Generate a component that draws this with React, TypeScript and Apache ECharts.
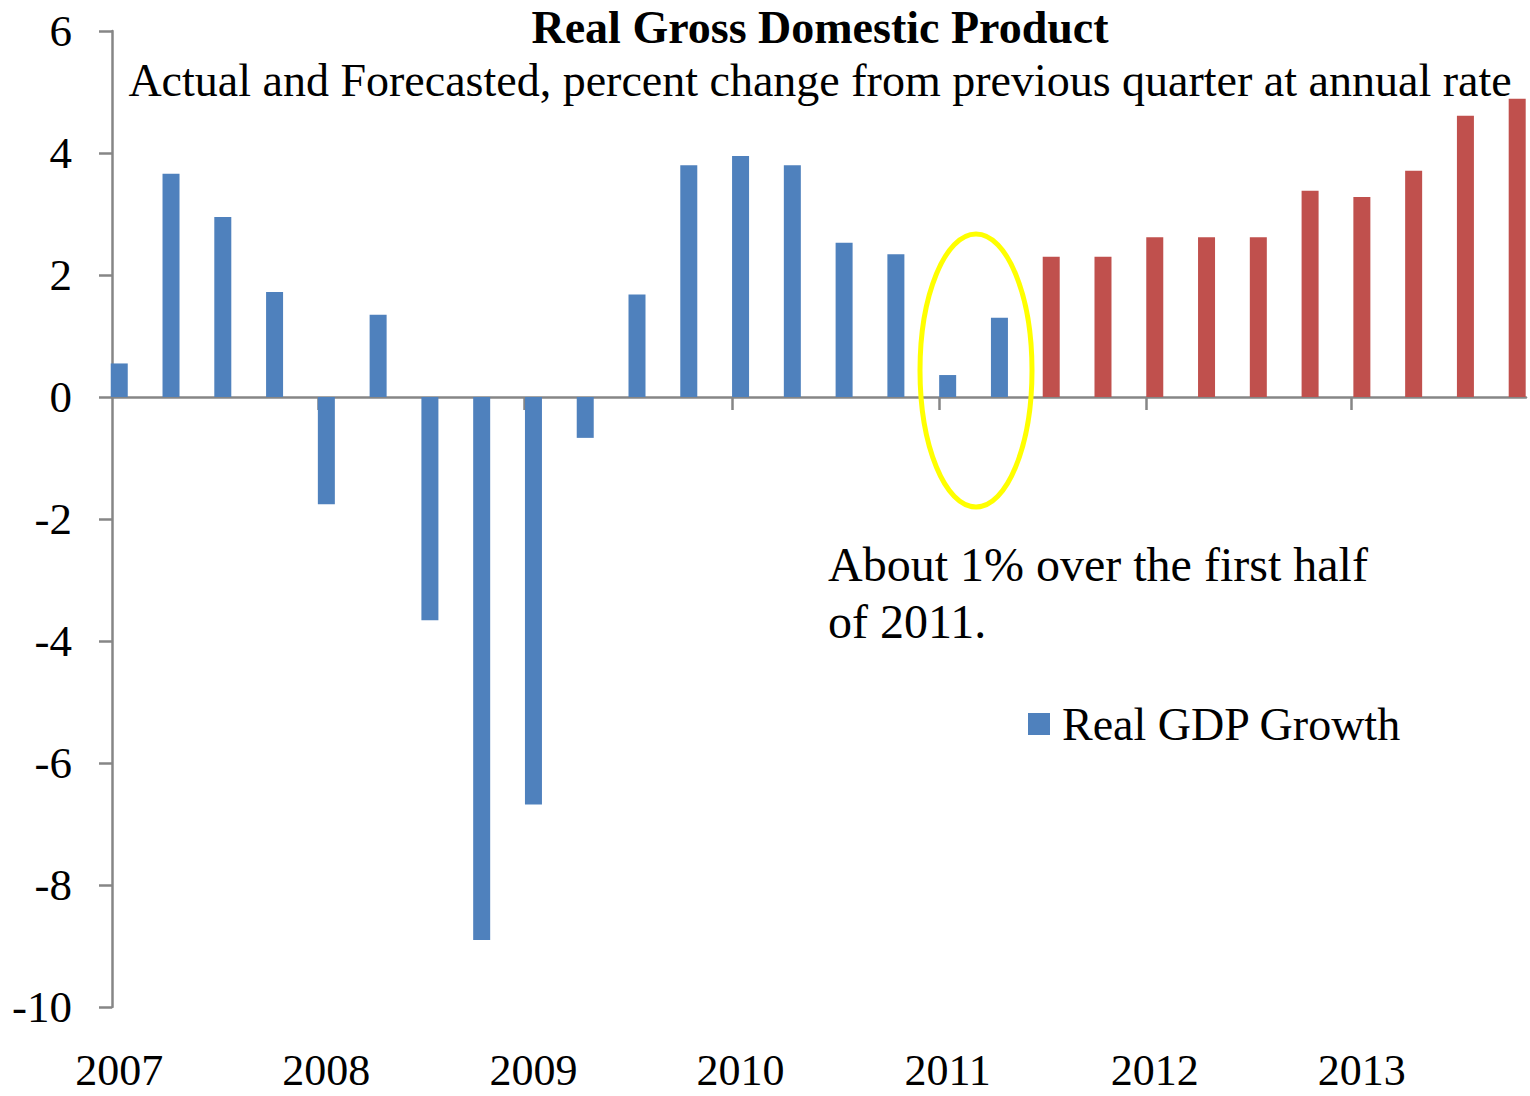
import React, { useEffect, useRef } from "react";
import * as echarts from "echarts";

// Quarterly real GDP growth, 2007Q1 .. 2013Q4 (percent change at annual rate)
const actualValues = [
  0.55, 3.66, 2.95, 1.72, // 2007
  -1.76, 1.35, -3.66, -8.9, // 2008
  -6.68, -0.67, 1.68, 3.8, // 2009
  3.95, 3.8, 2.53, 2.34, // 2010
  0.36, 1.3, // 2011 H1
];
const forecastValues = [
  2.3, 2.3, // 2011 H2
  2.62, 2.62, 2.62, 3.38, // 2012
  3.28, 3.71, 4.61, 4.89, // 2013
];
const yearLabels = ["2007", "2008", "2009", "2010", "2011", "2012", "2013"];
const yearLabelPositions = [0, 4, 8, 12, 16, 20, 24];
const yearTickPositions = [3.85, 7.83, 11.83, 15.84, 19.84, 23.8];

const FONT = "Liberation Serif";
const BLUE = "#4F81BD";
const RED = "#C0504D";
const AXIS = "#868686";

export default function App() {
  const ref = useRef<HTMLDivElement>(null);

  useEffect(() => {
    document.body.style.margin = "0";
    document.body.style.overflow = "hidden";
    const chart = echarts.init(ref.current!, null, { renderer: "svg" });

    const data = [
      ...actualValues.map((v, i) => ({ value: [i, v] })),
      ...forecastValues.map((v, i) => ({
        value: [actualValues.length + i, v],
        itemStyle: { color: RED },
      })),
    ];

    chart.setOption({
      animation: false,
      backgroundColor: "#ffffff",
      grid: { left: 112, top: 31, width: 1414, height: 976, containLabel: false },
      legend: {
        show: true,
        left: 1028,
        top: 699,
        padding: 0,
        icon: "rect",
        itemWidth: 22,
        itemHeight: 22,
        data: ["Real GDP Growth"],
        textStyle: {
          fontFamily: FONT,
          fontSize: 46,
          color: "#000",
          lineHeight: 50,
          padding: [0, 0, 0, 7],
        },
      },
      xAxis: [
        {
          type: "value",
          min: -0.14,
          max: 27.17,
          position: "bottom",
          axisLine: { show: true, onZero: true, lineStyle: { color: AXIS, width: 2.5 } },
          axisTick: {
            show: true,
            customValues: yearTickPositions,
            length: 13,
            lineStyle: { color: AXIS, width: 2.5 },
          },
          axisLabel: { show: false },
          splitLine: { show: false },
        },
        {
          type: "value",
          min: -0.14,
          max: 27.17,
          position: "bottom",
          axisLine: { show: false, onZero: false },
          axisTick: { show: false },
          splitLine: { show: false },
          axisLabel: {
            show: true,
            customValues: yearLabelPositions,
            formatter: (v: number) => yearLabels[Math.round(v / 4)] ?? "",
            fontFamily: FONT,
            fontSize: 44,
            lineHeight: 36,
            color: "#000",
            margin: 45,
          },
        },
      ],
      yAxis: {
        type: "value",
        min: -10,
        max: 6,
        interval: 2,
        axisLine: { show: true, onZero: false, lineStyle: { color: AXIS, width: 2.5 } },
        axisTick: { show: true, length: 13, lineStyle: { color: AXIS, width: 2.5 } },
        splitLine: { show: false },
        axisLabel: {
          fontFamily: FONT,
          fontSize: 45,
          color: "#000",
          margin: 40,
        },
      },
      series: [
        {
          name: "Real GDP Growth",
          type: "bar",
          xAxisIndex: 0,
          barWidth: 17,
          clip: true,
          itemStyle: { color: BLUE },
          data,
        },
      ],
      graphic: [
        {
          type: "text",
          x: 820,
          y: 27,
          style: {
            text: "Real Gross Domestic Product",
            fontFamily: FONT,
            fontSize: 46,
            fontWeight: "bold",
            fill: "#000",
            align: "center",
            verticalAlign: "middle",
          },
        },
        {
          type: "text",
          x: 820,
          y: 80,
          style: {
            text: "Actual and Forecasted, percent change from previous quarter at annual rate",
            fontFamily: FONT,
            fontSize: 46,
            fill: "#000",
            align: "center",
            verticalAlign: "middle",
          },
        },
        {
          type: "text",
          x: 828,
          y: 536,
          style: {
            text: "About 1% over the first half\nof 2011.",
            fontFamily: FONT,
            fontSize: 48,
            lineHeight: 57,
            fill: "#000",
            align: "left",
            verticalAlign: "top",
          },
        },
        {
          type: "ellipse",
          shape: { cx: 976, cy: 370.5, rx: 56, ry: 136.5 },
          style: { fill: "none", stroke: "#FFFF00", lineWidth: 5 },
          z: 100,
        },
      ],
    });

    return () => chart.dispose();
  }, []);

  return <div ref={ref} style={{ width: 1530, height: 1096 }} />;
}
